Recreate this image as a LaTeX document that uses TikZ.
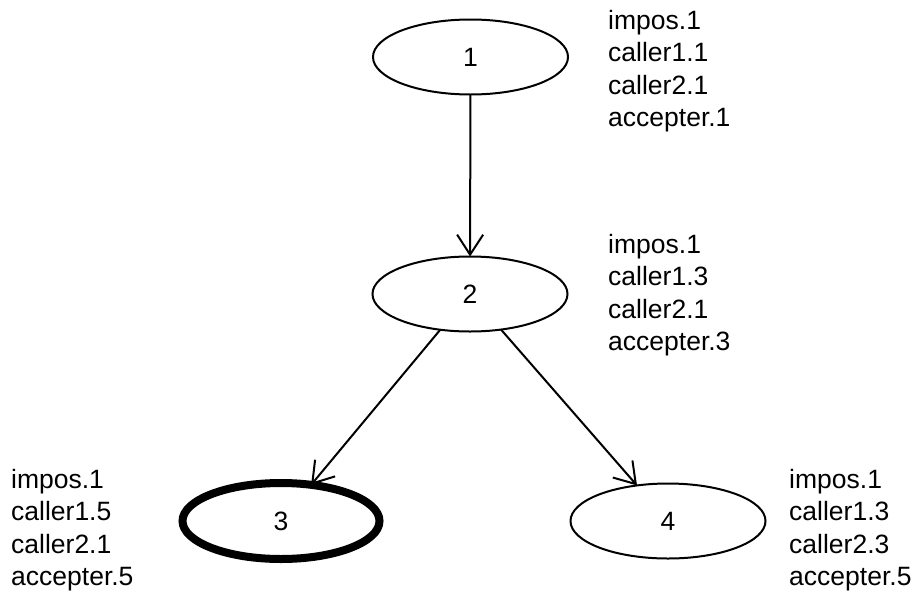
\documentclass[tikz,border=0pt]{standalone}
\usepackage{fontspec}
\setmainfont{Liberation Sans}
\usetikzlibrary{arrows.meta,shapes.geometric}
\begin{document}
\begin{tikzpicture}[x=1pt,y=-1pt,
  state/.style={ellipse,draw=black,line width=2pt,inner sep=0pt,outer sep=0pt,
    minimum width=195pt,minimum height=75pt,font=\fontsize{26.5}{32.5}\selectfont},
  final/.style={state,line width=8pt,minimum width=197pt,minimum height=76pt},
  info/.style={anchor=base west,align=left,inner sep=0pt,font=\fontsize{26.5}{32.5}\selectfont},
  edge/.style={line width=2pt,-{Straight Barb[length=20pt,width=26pt,line width=2pt]}}]
\useasboundingbox (0,0) rectangle (920,592);
\node[state] (n1) at (470.5,57) {1};
\node[state] (n2) at (470,294) {2};
\node[final] (n3) at (281,521) {3};
\node[state] (n4) at (668,521) {4};
\node[info] (t1) at (608,126.5) {impos.1\\caller1.1\\caller2.1\\accepter.1};
\node[info] (t2) at (608,350.5) {impos.1\\caller1.3\\caller2.1\\accepter.3};
\node[info] (t3) at (11,585.5) {impos.1\\caller1.5\\caller2.1\\accepter.5};
\node[info] (t4) at (789,585.5) {impos.1\\caller1.3\\caller2.3\\accepter.5};
\draw[edge] (n1) -- (n2);
\draw[edge] (n2) -- (n3);
\draw[edge] (n2) -- (n4);
\end{tikzpicture}
\end{document}
